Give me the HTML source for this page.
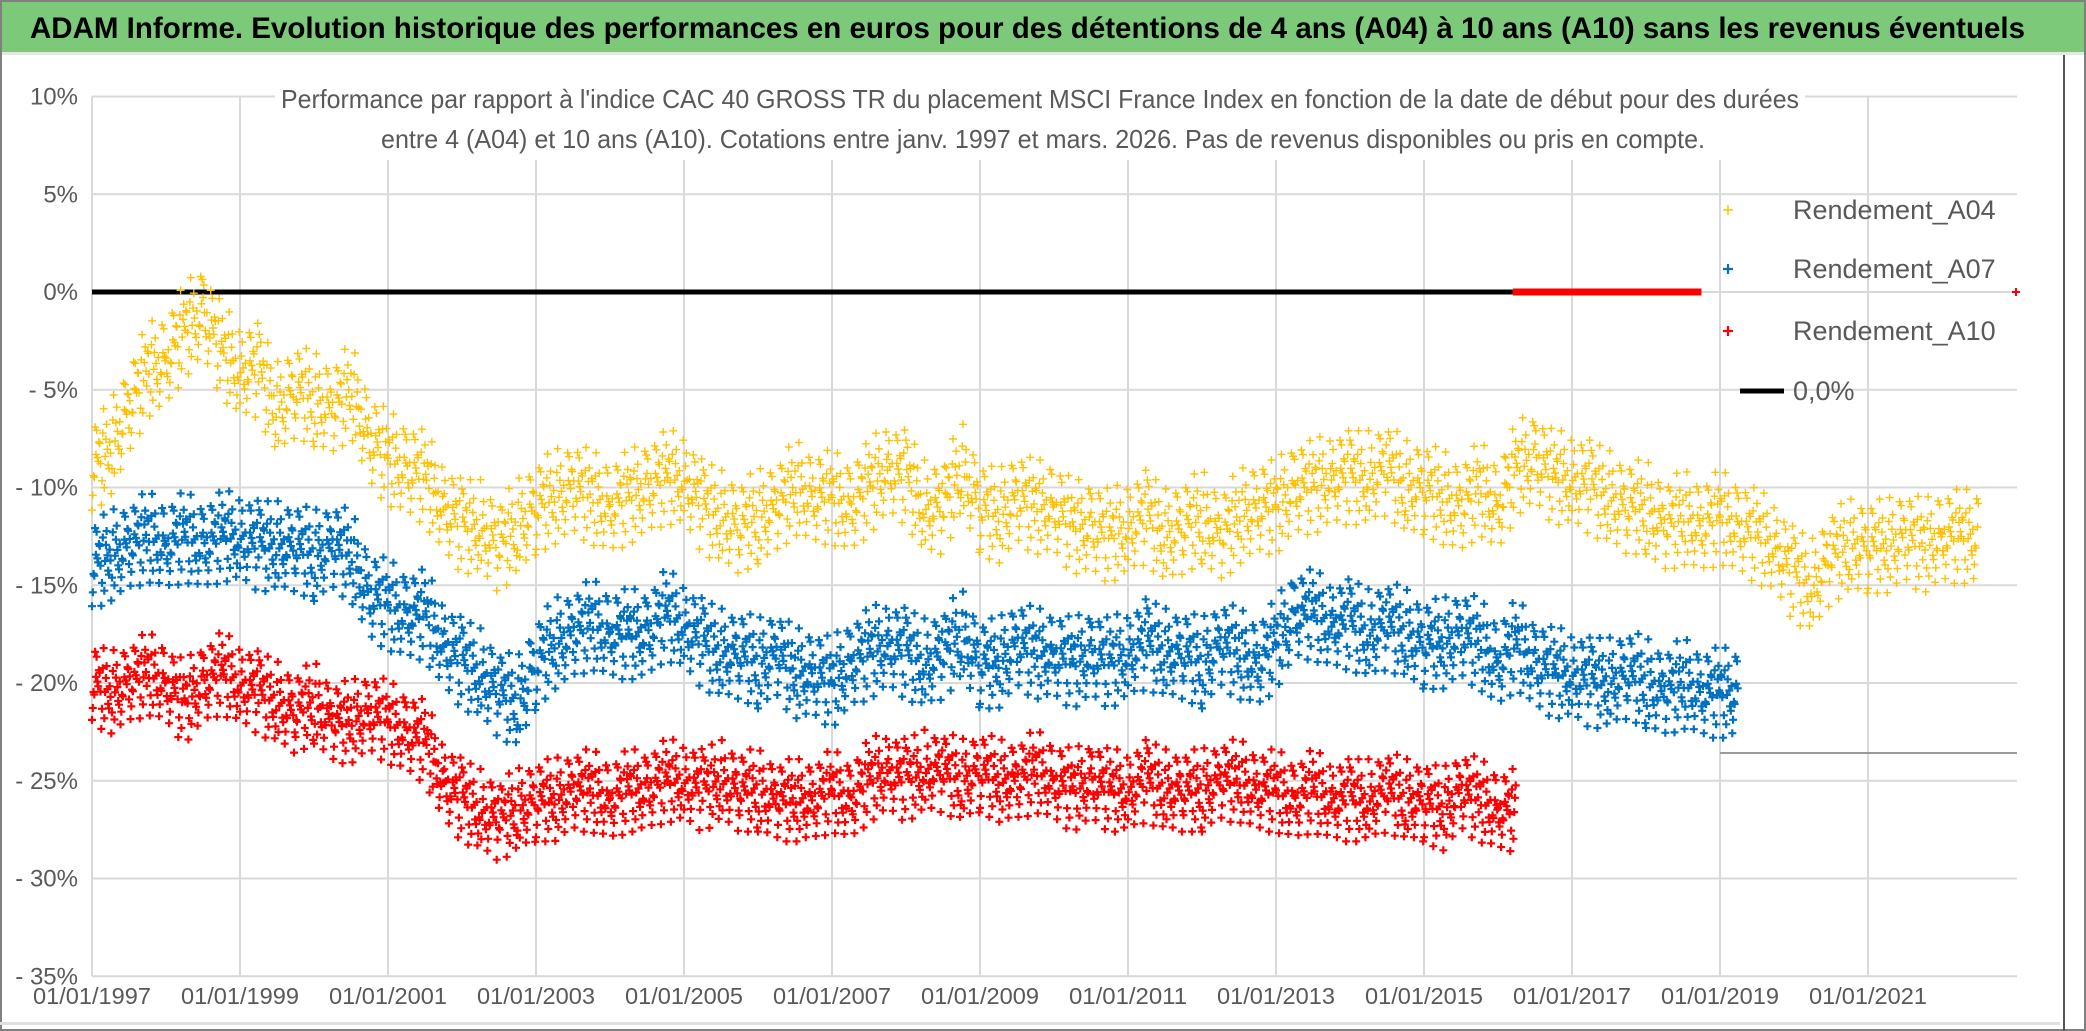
<!DOCTYPE html>
<html><head><meta charset="utf-8"><style>
html,body{margin:0;padding:0;background:#fff}
svg{display:block}
text{font-family:"Liberation Sans Narrow","Liberation Sans",sans-serif}
</style></head><body>
<svg id="chart" width="2086" height="1031" viewBox="0 0 2086 1031" xmlns="http://www.w3.org/2000/svg">
<rect x="0" y="0" width="2086" height="1031" fill="#fff"/>
<rect x="0" y="0" width="2086" height="52" fill="#7DC97A"/>
<text x="30" y="38" font-size="30" font-weight="bold" fill="#000" textLength="1995" lengthAdjust="spacingAndGlyphs">ADAM Informe. Evolution historique des performances en euros pour des détentions de 4 ans (A04) à 10 ans (A10) sans les revenus éventuels</text>
<rect x="0" y="52" width="2086" height="3" fill="#e6e6e6"/>
<rect x="1" y="1" width="2084" height="1029" fill="none" stroke="#808080" stroke-width="2"/>
<line x1="2064" y1="55" x2="2064" y2="1031" stroke="#555" stroke-width="2"/>
<rect x="0" y="1022" width="2060" height="3" fill="#e0e0e0"/>
<g id="grid"></g>
<g id="yaxis"></g>
<g id="xaxis"></g>
<rect x="275" y="72" width="1530" height="88" fill="#fff"/>
<text x="1040" y="108" font-size="26" fill="#595959" text-anchor="middle" textLength="1518" lengthAdjust="spacingAndGlyphs">Performance par rapport à l'indice CAC 40 GROSS TR  du placement MSCI France Index en fonction de la date de début pour des durées</text>
<text x="1043" y="148" font-size="26" fill="#595959" text-anchor="middle" textLength="1324" lengthAdjust="spacingAndGlyphs">entre 4 (A04) et 10 ans (A10). Cotations entre janv. 1997 et mars. 2026. Pas de revenus disponibles ou pris en compte.</text>
<line x1="1720" y1="753" x2="2017" y2="753" stroke="#9a9a9a" stroke-width="2"/>
<g id="series"></g>
<g id="legend"></g>
</svg>
<script>
const years0 = 1997;
const quarterStep = 0.25;
const a04Centers = [-9,-8,-6,-4,-3.5,-2,-1,-3,-4,-4,-6,-5,-5.5,-6,-5,-7.5,-8.5,-9,-9.5,-11,-12,-12,-13,-12,-11,-10.5,-10,-10.5,-11,-10.5,-10,-9.5,-9.5,-11,-11.5,-12,-11.5,-11,-10,-10.5,-10.5,-11,-10,-9,-9.5,-11,-11,-9,-11,-11.5,-10.5,-11,-11,-12,-12,-12.5,-12,-11.5,-12.5,-12,-11.5,-12.5,-11.5,-11,-11,-10,-10,-9.5,-9.5,-9.5,-9,-10,-10,-10.5,-11,-10,-11,-9,-8.5,-9.5,-9.5,-10,-10.5,-11,-11,-12,-11.5,-12,-11.5,-12,-12.5,-13,-14.5,-15,-13.5,-13,-13,-13,-12.5,-13,-12.5,-12.5];
const a04Spread = 2.4;
const a07Centers = [-14,-13.5,-13,-12.5,-13,-12.5,-13,-12.5,-12.5,-13,-13,-13,-13.5,-13,-13.5,-15.5,-16,-16.5,-16.5,-18,-19,-19.5,-20.5,-21,-19,-18,-17.5,-17,-17.5,-17.5,-17.5,-16.5,-17,-18,-18.5,-18.5,-19,-18.5,-19.5,-19.5,-20,-19,-18.5,-18,-18.5,-19,-18.5,-17.5,-19,-19,-18,-18.5,-18.5,-19,-18.5,-19,-18.5,-18,-18.5,-18.5,-19,-18,-18.5,-19,-18,-16.5,-16.5,-17,-17,-17.5,-17,-17.5,-18,-18,-17.5,-18,-19,-18,-19,-19.5,-19.5,-20,-20,-19.5,-20,-20.5,-20,-20.5,-20.5];
const a07Spread = 2.3;
const a10Centers = [-20,-20.5,-20,-19.5,-20,-21,-20,-19.5,-20,-20.5,-21,-21.5,-21,-22,-22,-21.5,-22,-22.5,-23,-25,-26,-26.5,-27,-26.5,-26,-26,-25.5,-25.5,-26,-25.5,-25.5,-25,-25,-25.5,-25,-25.5,-25.5,-26,-26,-26,-25.5,-26,-25,-24.5,-25,-24.5,-24.5,-25,-24.5,-25,-25,-24.5,-25,-25.5,-25,-25.5,-25.5,-25,-25.5,-25.5,-25.5,-25,-25,-25.5,-25.5,-26,-25.5,-26,-26,-26,-25.5,-26,-26,-26.5,-25.5,-26,-26.5];
const a10Spread = 2.1;
const yTicks = [10,5,0,-5,-10,-15,-20,-25,-30,-35];
const xTickYears = [1997,1999,2001,2003,2005,2007,2009,2011,2013,2015,2017,2019,2021];
const zeroLineEnd = 2016.2;
const redZeroEnd = 2018.75;
const redZeroPoint = 2023.0;
const legendLabels = ["Rendement_A04","Rendement_A07","Rendement_A10","0,0%"];

const jitter = [-0.9,0.1,0.5,-0.3,0.8,-0.1,0.3,-0.6,0.0,1.0,-0.4,0.2,-1.0,0.6,-0.2,0.4,-0.7,0.15,0.7,-0.5,0.05,-0.25,0.35,-0.05];

const X0=92, PX_PER_YEAR=74, Y0=292, PX_PER_PCT=19.55;
const xs = yr => X0 + (yr - 1997)*PX_PER_YEAR;
const ys = v => Y0 - v*PX_PER_PCT;
const NS="http://www.w3.org/2000/svg";
function mk(tag, attrs, parent){const e=document.createElementNS(NS,tag);for(const k in attrs)e.setAttribute(k,attrs[k]);parent.appendChild(e);return e;}

const grid=document.getElementById('grid');
yTicks.forEach(t=>{
  const l=mk('line',{x1:X0,x2:2017,y1:ys(t),y2:ys(t),stroke:'#d9d9d9','stroke-width':2},grid);
  
  
});
xTickYears.forEach(yr=>{
  const l=mk('line',{x1:xs(yr),x2:xs(yr),y1:ys(10),y2:ys(-35),stroke:'#d9d9d9','stroke-width':2},grid);
  
  
});
const ya=document.getElementById('yaxis');
yTicks.forEach(t=>{
  const tx=mk('text',{x:78,y:ys(t)+8,'font-size':24,fill:'#595959','text-anchor':'end'},ya);
  tx.textContent=(t<0?'- '+(-t):t)+'%';
  
  
});
const xa=document.getElementById('xaxis');
xTickYears.forEach(yr=>{
  const tx=mk('text',{x:xs(yr),y:1004,'font-size':23,fill:'#595959','text-anchor':'middle',textLength:118,lengthAdjust:'spacingAndGlyphs'},xa);
  tx.textContent='01/01/'+yr;
  
  
});

const ser=document.getElementById('series');
const zl=mk('line',{x1:xs(1997),x2:xs(zeroLineEnd),y1:ys(0),y2:ys(0),stroke:'#000','stroke-width':5},ser);


const rz=mk('line',{x1:xs(zeroLineEnd),x2:xs(redZeroEnd),y1:ys(0),y2:ys(0),stroke:'#ff0000','stroke-width':7},ser);


const rp=mk('path',{d:`M${xs(redZeroPoint)-4} ${ys(0)}h8M${xs(redZeroPoint)} ${ys(0)-4}v8`,stroke:'#ff0000','stroke-width':2},ser);



function plusPath(centers, spread, arm){
  let d='';
  for(let q=0;q<centers.length;q++){
    const c0=centers[q], c1=q+1<centers.length?centers[q+1]:centers[q];
    for(let k=0;k<jitter.length;k++){
      const f=k/jitter.length;
      const yr=years0+(q+f)*quarterStep;
      const v=c0+(c1-c0)*f+spread*jitter[(k*7+q*5)%jitter.length];
      const x=xs(yr), y=ys(v);
      d+=`M${(x-arm).toFixed(1)} ${y.toFixed(1)}h${2*arm}M${x.toFixed(1)} ${(y-arm).toFixed(1)}v${2*arm}`;
    }
  }
  return d;
}
const p04=mk('path',{d:plusPath(a04Centers,a04Spread,4),stroke:'#FFC000','stroke-width':1.4,fill:'none'},ser);


const p07=mk('path',{d:plusPath(a07Centers,a07Spread,4),stroke:'#0070C0','stroke-width':2.2,fill:'none'},ser);


const p10=mk('path',{d:plusPath(a10Centers,a10Spread,4),stroke:'#FF0000','stroke-width':2.2,fill:'none'},ser);



const lg=document.getElementById('legend');
const lgColors=['#FFC000','#0070C0','#FF0000','#000'];
const lgY=[210,269,331,391];
legendLabels.forEach((lab,i)=>{
  const g=mk('g',{},lg);
  
  
  if(i<3){
    mk('path',{d:`M1723 ${lgY[i]}h10M1728 ${lgY[i]-5}v10`,stroke:lgColors[i],'stroke-width':i==0?1.5:2.2},g);
  } else {
    mk('line',{x1:1740,x2:1784,y1:lgY[i],y2:lgY[i],stroke:'#000','stroke-width':5},g);
  }
  const t=mk('text',{x:1793,y:lgY[i]+9,'font-size':27,fill:'#595959'},g);
  t.textContent=lab;
});
</script>
</body></html>
